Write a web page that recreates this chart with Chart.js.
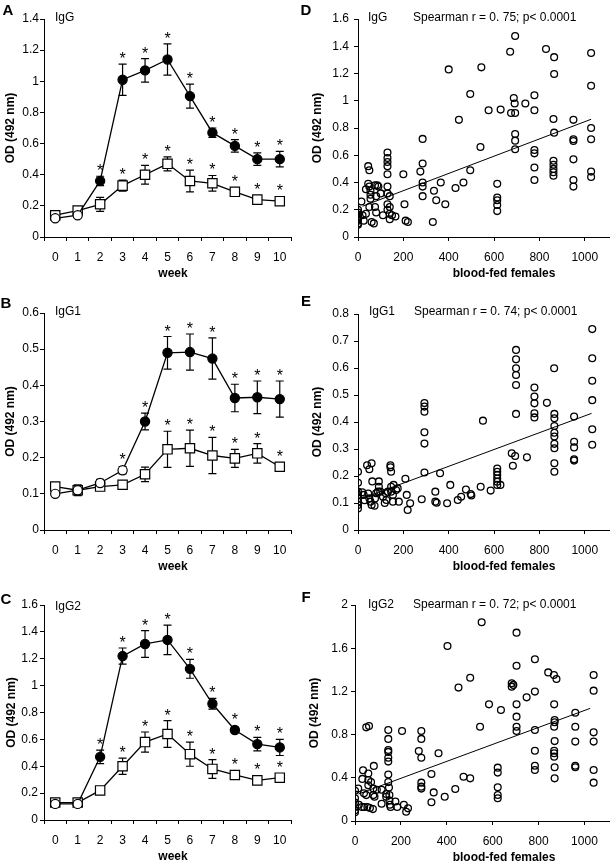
<!DOCTYPE html>
<html>
<head>
<meta charset="utf-8">
<script src="https://cdn.jsdelivr.net/npm/chart.js@4/dist/chart.umd.min.js"></script>
<style>
  html, body { margin: 0; padding: 0; background: #fff; overflow: hidden; }
  canvas { position: absolute; }
</style>
</head>
<body>
<canvas id="cA" width="300" height="281" style="left:0;top:0"></canvas>
<canvas id="cB" width="300" height="281" style="left:0;top:293px"></canvas>
<canvas id="cC" width="300" height="281" style="left:0;top:583px"></canvas>
<canvas id="cD" width="315" height="281" style="left:300px;top:0"></canvas>
<canvas id="cE" width="315" height="281" style="left:300px;top:293px"></canvas>
<canvas id="cF" width="315" height="281" style="left:300px;top:584px"></canvas>
<script>
const weeks = ['0', '1', '2', '3', '4', '5', '6', '7', '8', '9', '10'];

// A - IgG (circles / squares, mean and error)
const igGCircle = [0.12, 0.14, 0.36, 1.01, 1.07, 1.14, 0.905, 0.67, 0.585, 0.50, 0.50];
const igGCircleErr = [0.01, 0.01, 0.03, 0.10, 0.075, 0.10, 0.077, 0.03, 0.04, 0.04, 0.05];
const igGSquare = [0.14, 0.17, 0.21, 0.33, 0.40, 0.47, 0.36, 0.345, 0.29, 0.24, 0.23];
const igGSquareErr = [0.01, 0.01, 0.045, 0.035, 0.06, 0.045, 0.07, 0.05, 0.01, 0.01, 0.01];
const igGCircleStars = [2, 3, 4, 5, 6, 7, 8, 9, 10];
const igGSquareStars = [3, 4, 5, 6, 7, 8, 9, 10];

// B - IgG1
const igG1Circle = [0.10, 0.11, 0.13, 0.165, 0.30, 0.49, 0.492, 0.474, 0.365, 0.367, 0.362];
const igG1CircleErr = [0.005, 0.01, 0.01, 0.01, 0.023, 0.045, 0.05, 0.057, 0.038, 0.045, 0.05];
const igG1Square = [0.12, 0.11, 0.12, 0.125, 0.154, 0.223, 0.226, 0.206, 0.198, 0.212, 0.175];
const igG1SquareErr = [0.005, 0.015, 0.005, 0.005, 0.02, 0.05, 0.05, 0.05, 0.025, 0.027, 0.005];
const igG1CircleStars = [3, 4, 5, 6, 7, 8, 9, 10];
const igG1SquareStars = [5, 6, 7, 8, 9, 10];

// C - IgG2
const igG2Circle = [0.12, 0.12, 0.47, 1.22, 1.31, 1.34, 1.125, 0.865, 0.67, 0.565, 0.54];
const igG2CircleErr = [0.01, 0.01, 0.05, 0.06, 0.10, 0.11, 0.07, 0.04, 0.02, 0.05, 0.06];
const igG2Square = [0.13, 0.13, 0.22, 0.40, 0.58, 0.64, 0.49, 0.38, 0.335, 0.295, 0.315];
const igG2SquareErr = [0.01, 0.01, 0.01, 0.06, 0.075, 0.10, 0.09, 0.07, 0.01, 0.02, 0.01];
const igG2CircleStars = [2, 3, 4, 5, 6, 7, 8, 9, 10];
const igG2SquareStars = [3, 4, 5, 6, 7, 8, 9, 10];

// D - IgG vs blood-fed females [females, OD]
const igGPoints = [
  [0, 0.09], [0, 0.10], [0, 0.12], [0, 0.13], [0, 0.14], [0, 0.15], [0, 0.165], [0, 0.18], [0, 0.20],
  [15, 0.26], [20, 0.16], [25, 0.12], [35, 0.17], [35, 0.35],
  [45, 0.52], [50, 0.49], [45, 0.39], [50, 0.37], [55, 0.34], [55, 0.31], [55, 0.28], [50, 0.22],
  [60, 0.11], [70, 0.10], [75, 0.38], [85, 0.38], [90, 0.37], [80, 0.30], [75, 0.22], [80, 0.18],
  [100, 0.32], [110, 0.16],
  [130, 0.62], [130, 0.58], [130, 0.55], [130, 0.52], [130, 0.46], [130, 0.37], [130, 0.32], [130, 0.24], [130, 0.20],
  [140, 0.30], [140, 0.22], [140, 0.17], [140, 0.13], [150, 0.16], [165, 0.15],
  [200, 0.46], [205, 0.24], [210, 0.12], [220, 0.11],
  [275, 0.48], [285, 0.72], [285, 0.54], [285, 0.40], [285, 0.37], [285, 0.30],
  [330, 0.11], [335, 0.34], [345, 0.27], [365, 0.40], [385, 0.24], [400, 1.23], [430, 0.36],
  [445, 0.86], [465, 0.40], [495, 1.05], [495, 0.49],
  [540, 0.66], [544, 1.245], [576, 0.93],
  [614, 0.39], [614, 0.29], [614, 0.27], [614, 0.235], [614, 0.19], [629, 0.935],
  [671, 1.36], [675, 0.91], [693, 1.475], [687, 1.02], [691, 0.98], [693, 0.91], [693, 0.756], [693, 0.707], [693, 0.644],
  [738, 0.98], [778, 1.04], [778, 0.93], [778, 0.638], [778, 0.614], [778, 0.51], [778, 0.418],
  [829, 1.38], [865, 1.32], [865, 1.196], [862, 0.866], [865, 0.766], [862, 0.56], [862, 0.53], [862, 0.50], [862, 0.475], [862, 0.45],
  [950, 0.86], [950, 0.717], [950, 0.705], [950, 0.57], [950, 0.418], [950, 0.37],
  [1028, 1.35], [1028, 1.11], [1028, 0.80], [1028, 0.717], [1028, 0.48], [1028, 0.44]
];
const igGTrend = [[20, 0.226], [1028, 0.864]];

// E - IgG1 vs blood-fed females
const igG1Points = [
  [0, 0.216], [0, 0.175], [0, 0.142], [0, 0.13], [0, 0.117], [0, 0.105], [0, 0.093], [0, 0.08],
  [19, 0.14], [25, 0.13], [29, 0.11], [40, 0.24], [50, 0.225], [60, 0.247],
  [45, 0.135], [50, 0.117], [55, 0.105], [60, 0.093], [63, 0.18],
  [73, 0.09], [75, 0.117], [80, 0.136], [88, 0.142], [92, 0.18], [92, 0.16], [98, 0.142],
  [110, 0.123], [118, 0.10], [122, 0.136], [125, 0.111], [132, 0.142],
  [143, 0.24], [143, 0.232], [146, 0.216], [146, 0.16], [146, 0.142], [154, 0.13], [154, 0.105],
  [157, 0.167], [168, 0.148], [175, 0.154], [180, 0.105],
  [209, 0.19], [215, 0.13], [219, 0.074], [230, 0.099],
  [281, 0.114], [293, 0.47], [293, 0.457], [293, 0.438], [293, 0.362], [293, 0.32], [293, 0.213],
  [341, 0.142], [341, 0.105], [347, 0.101], [362, 0.21], [393, 0.099], [407, 0.167],
  [440, 0.111], [455, 0.123], [476, 0.15], [497, 0.133], [500, 0.128],
  [541, 0.16], [551, 0.405], [585, 0.146],
  [614, 0.228], [614, 0.216], [614, 0.204], [614, 0.191], [614, 0.179], [614, 0.167], [628, 0.167],
  [678, 0.284], [683, 0.238], [693, 0.274],
  [697, 0.667], [697, 0.632], [697, 0.599], [697, 0.574], [697, 0.537], [697, 0.43],
  [745, 0.269], [778, 0.528], [778, 0.494], [778, 0.469], [778, 0.432], [778, 0.417], [833, 0.471],
  [865, 0.599], [866, 0.43], [866, 0.414], [866, 0.385], [866, 0.36], [866, 0.346], [866, 0.319], [866, 0.303], [866, 0.247], [866, 0.216],
  [953, 0.42], [953, 0.327], [953, 0.306], [953, 0.262], [953, 0.257],
  [1033, 0.744], [1033, 0.636], [1033, 0.553], [1033, 0.481], [1033, 0.373], [1033, 0.316]
];
const igG1Trend = [[15, 0.116], [1030, 0.432]];

// F - IgG2 vs blood-fed females
const igG2Points = [
  [0, 0.28], [0, 0.21], [0, 0.17], [0, 0.13], [0, 0.10], [0, 0.08],
  [14, 0.30], [32, 0.39], [35, 0.47], [39, 0.256], [49, 0.24], [54, 0.13], [49, 0.867], [61, 0.88],
  [58, 0.44], [58, 0.38], [58, 0.33], [70, 0.36], [82, 0.51], [80, 0.30], [95, 0.29], [80, 0.24], [85, 0.225],
  [17, 0.15], [30, 0.13], [40, 0.13], [65, 0.12], [78, 0.11], [116, 0.16], [116, 0.29],
  [145, 0.843], [145, 0.76], [145, 0.657], [145, 0.64], [145, 0.586], [145, 0.55],
  [145, 0.43], [145, 0.36], [148, 0.31], [150, 0.24], [150, 0.19], [152, 0.15], [155, 0.13],
  [136, 0.25], [136, 0.225], [176, 0.18], [184, 0.13],
  [205, 0.833], [213, 0.15], [223, 0.086], [231, 0.117],
  [278, 0.648], [289, 0.833], [289, 0.76], [289, 0.586], [289, 0.355], [289, 0.318], [289, 0.30],
  [333, 0.435], [333, 0.173], [343, 0.265], [364, 0.627], [391, 0.225], [403, 1.62], [437, 0.296],
  [451, 1.235], [473, 0.41], [502, 1.327], [502, 0.395],
  [545, 0.873], [552, 1.84], [584, 1.08],
  [622, 0.494], [622, 0.448], [622, 0.312], [622, 0.241], [622, 0.21], [636, 1.028],
  [683, 1.275], [690, 1.26], [683, 1.244],
  [704, 1.744], [704, 1.438], [704, 1.08], [704, 0.966], [704, 0.873], [704, 0.833],
  [748, 1.145], [784, 1.497], [784, 1.198], [784, 0.843], [784, 0.651], [784, 0.512], [784, 0.472],
  [842, 1.376], [867, 1.352], [878, 1.315],
  [868, 1.08], [870, 0.935], [870, 0.914], [868, 0.873], [870, 0.74], [868, 0.651], [868, 0.627], [868, 0.596], [870, 0.497], [870, 0.395],
  [960, 1.003], [960, 0.873], [960, 0.735], [960, 0.512], [960, 0.497],
  [1040, 1.352], [1040, 1.207], [1040, 0.821], [1040, 0.735], [1040, 0.472], [1040, 0.355]
];
const igG2Trend = [[15, 0.25], [1025, 1.043]];

const femaleTicks = [0, 200, 400, 600, 800, 1000];

const FONT = '"Liberation Sans", Arial, Helvetica, sans-serif';
Chart.defaults.font.family = FONT;
Chart.defaults.font.size = 12;
Chart.defaults.color = '#000';

// error bars behind the markers, asterisks above them
const errorBars = {
  id: 'errorBars',
  beforeDatasetsDraw(chart) {
    const ctx = chart.ctx, ys = chart.scales.y;
    chart.data.datasets.forEach((ds, di) => {
      if (!ds.errors) return;
      const meta = chart.getDatasetMeta(di);
      ctx.save();
      ctx.strokeStyle = '#000';
      ctx.lineWidth = 1.2;
      meta.data.forEach((pt, i) => {
        const t = ys.getPixelForValue(ds.data[i] + ds.errors[i]);
        const b = ys.getPixelForValue(ds.data[i] - ds.errors[i]);
        ctx.beginPath();
        ctx.moveTo(pt.x, t); ctx.lineTo(pt.x, b);
        ctx.moveTo(pt.x - 4, t); ctx.lineTo(pt.x + 4, t);
        ctx.moveTo(pt.x - 4, b); ctx.lineTo(pt.x + 4, b);
        ctx.stroke();
      });
      ctx.restore();
    });
  },
  afterDatasetsDraw(chart) {
    const ctx = chart.ctx, ys = chart.scales.y;
    ctx.save();
    ctx.fillStyle = '#000';
    ctx.font = '16px ' + FONT;
    ctx.textAlign = 'center';
    ctx.textBaseline = 'alphabetic';
    chart.data.datasets.forEach((ds, di) => {
      if (!ds.stars) return;
      const meta = chart.getDatasetMeta(di);
      ds.stars.forEach(i => {
        const pt = meta.data[i];
        const top = Math.min(ys.getPixelForValue(ds.data[i] + ds.errors[i]), pt.y - 5);
        ctx.fillText('*', pt.x, top);
      });
    });
    ctx.restore();
  }
};

// panel letter, antibody tag, correlation note, x title
const panelText = {
  id: 'panelText',
  afterDraw(chart) {
    const o = chart.options.plugins.panelText;
    const ctx = chart.ctx, a = chart.chartArea;
    ctx.save();
    ctx.fillStyle = '#000';
    ctx.textBaseline = 'middle';
    ctx.textAlign = 'center';
    ctx.font = 'bold 15px ' + FONT;
    ctx.fillText(o.letter, o.letterX, o.letterY);
    ctx.textAlign = 'left';
    ctx.font = '12px ' + FONT;
    ctx.fillText(o.tag, o.tagX, o.tagY);
    if (o.note) ctx.fillText(o.note, o.noteX, o.tagY);
    ctx.textAlign = 'center';
    ctx.font = 'bold 12px ' + FONT;
    ctx.fillText(o.xTitle, o.xTitleX, a.bottom + 37);
    ctx.restore();
  }
};

function yAxis(max, step, width, labelPad, titlePad) {
  return {
    min: 0, max: max,
    ticks: { stepSize: step, padding: labelPad, color: '#000', callback: v => String(+v.toFixed(2)) },
    grid: { drawOnChartArea: false, tickLength: 4, color: '#000', lineWidth: 1 },
    border: { color: '#000', width: 1 },
    title: { display: true, text: 'OD (492 nm)', font: { weight: 'bold', size: 12 }, padding: { top: titlePad, bottom: 0 } },
    afterFit: s => { s.width = width; }
  };
}

function weekChart(id, p) {
  return new Chart(document.getElementById(id), {
    type: 'line',
    data: {
      labels: weeks,
      datasets: [
        {
          data: p.circle, errors: p.circleErr, stars: p.circleStars,
          borderColor: '#000', borderWidth: 1.3, tension: 0,
          pointStyle: 'circle', pointRadius: 4.6, pointBorderWidth: 1.2, pointBorderColor: '#000',
          pointBackgroundColor: p.circle.map((v, i) => i < p.openCircles ? '#fff' : '#000')
        },
        {
          data: p.square, errors: p.squareErr, stars: p.squareStars,
          borderColor: '#000', borderWidth: 1.3, tension: 0,
          pointStyle: 'rect', pointRadius: 6.6, pointBorderWidth: 1.2, pointBorderColor: '#000',
          pointBackgroundColor: '#fff'
        }
      ]
    },
    options: {
      responsive: false, animation: false, events: [],
      layout: { padding: { top: p.padTop, left: 0, right: 9, bottom: 0 } },
      plugins: {
        legend: { display: false }, tooltip: { enabled: false },
        panelText: { letter: p.letter, letterX: p.letterX, letterY: p.letterY, tag: p.tag, tagX: 55, tagY: p.tagY, xTitle: 'week', xTitleX: 173 }
      },
      scales: {
        x: {
          type: 'category', offset: true,
          grid: { offset: true, drawOnChartArea: false, tickLength: 4, color: '#000', lineWidth: 1 },
          border: { color: '#000', width: 1 },
          ticks: { padding: 9, color: '#000', maxRotation: 0, autoSkip: false },
          afterFit: s => { s.height = 44; }
        },
        y: yAxis(p.yMax, p.yStep, 44, p.labelPad, p.titlePad)
      }
    },
    plugins: [errorBars, panelText]
  });
}

function femaleChart(id, p) {
  return new Chart(document.getElementById(id), {
    type: 'scatter',
    data: {
      datasets: [
        {
          data: p.points.map(([x, y]) => ({ x, y })),
          pointStyle: 'circle', pointRadius: 3.4, pointBorderWidth: 1.3,
          pointBorderColor: '#000', pointBackgroundColor: 'rgba(255,255,255,0)'
        },
        {
          data: p.trend.map(([x, y]) => ({ x, y })),
          showLine: true, borderColor: '#000', borderWidth: 1, pointRadius: 0
        }
      ]
    },
    options: {
      responsive: false, animation: false, events: [],
      layout: { padding: { top: p.padTop, left: 0, right: p.padRight, bottom: 0 } },
      plugins: {
        legend: { display: false }, tooltip: { enabled: false },
        panelText: { letter: p.letter, letterX: 6, letterY: p.letterY, tag: p.tag, tagX: p.tagX, tagY: p.tagY, note: p.note, noteX: p.tagX + 45, xTitle: 'blood-fed females', xTitleX: 204 }
      },
      scales: {
        x: {
          type: 'linear', min: 0, max: 1110,
          afterBuildTicks: s => { s.ticks = femaleTicks.map(v => ({ value: v })); },
          grid: { drawOnChartArea: false, tickLength: 4, color: '#000', lineWidth: 1 },
          border: { color: '#000', width: 1 },
          ticks: { padding: 9, color: '#000', maxRotation: 0, autoSkip: false, callback: v => String(v) },
          afterFit: s => { s.height = 44; }
        },
        y: yAxis(p.yMax, p.yStep, p.yWidth, p.labelPad, p.titlePad)
      }
    },
    plugins: [panelText]
  });
}

weekChart('cA', {
  circle: igGCircle, circleErr: igGCircleErr, circleStars: igGCircleStars, openCircles: 2,
  square: igGSquare, squareErr: igGSquareErr, squareStars: igGSquareStars,
  yMax: 1.4, yStep: 0.2, padTop: 19, labelPad: 1, titlePad: 3,
  letter: 'A', letterX: 8, letterY: 11, tag: 'IgG', tagY: 18
});
weekChart('cB', {
  circle: igG1Circle, circleErr: igG1CircleErr, circleStars: igG1CircleStars, openCircles: 4,
  square: igG1Square, squareErr: igG1SquareErr, squareStars: igG1SquareStars,
  yMax: 0.6, yStep: 0.1, padTop: 20, labelPad: 1, titlePad: 3,
  letter: 'B', letterX: 6, letterY: 11, tag: 'IgG1', tagY: 19
});
weekChart('cC', {
  circle: igG2Circle, circleErr: igG2CircleErr, circleStars: igG2CircleStars, openCircles: 2,
  square: igG2Square, squareErr: igG2SquareErr, squareStars: igG2SquareStars,
  yMax: 1.6, yStep: 0.2, padTop: 22, labelPad: 2, titlePad: 4,
  letter: 'C', letterX: 6, letterY: 17, tag: 'IgG2', tagY: 24
});
femaleChart('cD', {
  points: igGPoints, trend: igGTrend, yMax: 1.6, yStep: 0.2,
  padTop: 19, padRight: 3, yWidth: 58, labelPad: 5, titlePad: 10,
  letter: 'D', letterY: 11, tag: 'IgG', tagX: 68, tagY: 18, note: 'Spearman r = 0. 75; p< 0.0001'
});
femaleChart('cE', {
  points: igG1Points, trend: igG1Trend, yMax: 0.8, yStep: 0.1,
  padTop: 21, padRight: 3, yWidth: 58, labelPad: 5, titlePad: 10,
  letter: 'E', letterY: 9, tag: 'IgG1', tagX: 69, tagY: 19, note: 'Spearman r = 0. 74; p< 0.0001'
});
femaleChart('cF', {
  points: igG2Points, trend: igG2Trend, yMax: 2, yStep: 0.4,
  padTop: 21, padRight: 4, yWidth: 55, labelPad: 3, titlePad: 7,
  letter: 'F', letterY: 14, tag: 'IgG2', tagX: 68, tagY: 21, note: 'Spearman r = 0. 72; p< 0.0001'
});
</script>
</body>
</html>
